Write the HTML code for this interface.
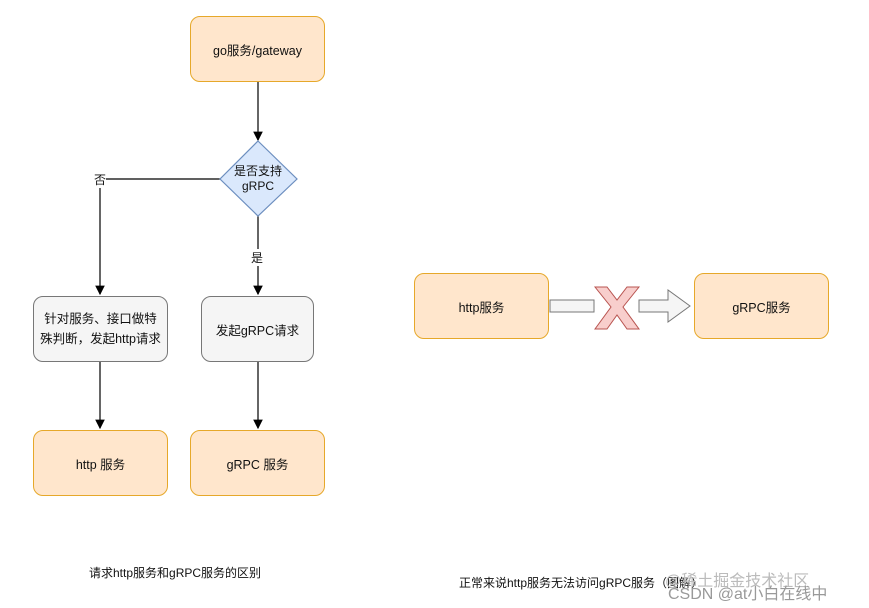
<!DOCTYPE html>
<html><head><meta charset="utf-8"><style>
body{margin:0;width:869px;height:608px;background:#fff;overflow:hidden;position:relative;font-family:"Liberation Sans","Noto Sans CJK SC",sans-serif}
.b{position:absolute;box-sizing:border-box;border:1.5px solid #e6a82a;background:#ffe6cc;border-radius:10px;display:flex;align-items:center;justify-content:center;text-align:center;font-size:12.5px;color:#111}
.g{background:#f5f5f5;border-color:#777}
.t{position:absolute;font-size:12px;color:#111}
</style></head><body>
<div class="b" style="left:190px;top:16px;width:135px;height:66px">go服务/gateway</div>
<div class="b g" style="left:33px;top:296px;width:135px;height:66px;line-height:20px">针对服务、接口做特<br>殊判断，发起http请求</div>
<div class="b g" style="left:201px;top:296px;width:113px;height:66px">发起gRPC请求</div>
<div class="b" style="left:33px;top:430px;width:135px;height:66px">http 服务</div>
<div class="b" style="left:190px;top:430px;width:135px;height:66px">gRPC 服务</div>
<div class="b" style="left:414px;top:273px;width:135px;height:66px">http服务</div>
<div class="b" style="left:694px;top:273px;width:135px;height:66px">gRPC服务</div>
<svg width="869" height="608" style="position:absolute;left:0;top:0">
<defs><marker id="a" markerWidth="8" markerHeight="8" refX="7" refY="4" orient="auto"><path d="M0,0L8,4L0,8z" fill="#000"/></marker></defs>
<g stroke="#000" stroke-width="1.2" fill="none">
<line x1="258" y1="82" x2="258" y2="140" marker-end="url(#a)"/>
<line x1="258" y1="216" x2="258" y2="294" marker-end="url(#a)"/>
<polyline points="220,179 100,179 100,294" marker-end="url(#a)"/>
<line x1="100" y1="362" x2="100" y2="428" marker-end="url(#a)"/>
<line x1="258" y1="362" x2="258" y2="428" marker-end="url(#a)"/>
</g>
<polygon points="258,141 297,179 258,216 220,179" fill="#dae8fc" stroke="#6c8ebf" stroke-width="1.2"/>
<rect x="550" y="300" width="44" height="12" fill="#f5f5f5" stroke="#777"/>
<polygon points="639,300 668,300 668,290 690,306 668,322 668,312 639,312" fill="#f5f5f5" stroke="#777"/>
<path d="M595,287 L607,287 L617,300 L627,287 L639,287 L623,307 L639,329 L627,329 L617,315 L607,329 L595,329 L611,307 Z" fill="#f8cecc" stroke="#b85450"/>
</svg>
<div class="t" style="left:230px;top:164px;width:56px;text-align:center;font-size:12px;line-height:15px">是否支持<br>gRPC</div>
<div class="t" style="left:94px;top:171px;background:#fff">否</div>
<div class="t" style="left:251px;top:249px;background:#fff">是</div>
<div class="t" style="left:89px;top:564px">请求http服务和gRPC服务的区别</div>
<div class="t" style="left:459px;top:574px">正常来说http服务无法访问gRPC服务（图解）</div>
<div class="t" style="left:665px;top:567px;font-size:16px;color:#bbb">@稀土掘金技术社区</div>
<div class="t" style="left:668px;top:580px;font-size:16px;color:#999">CSDN @at小白在线中</div>
</body></html>
